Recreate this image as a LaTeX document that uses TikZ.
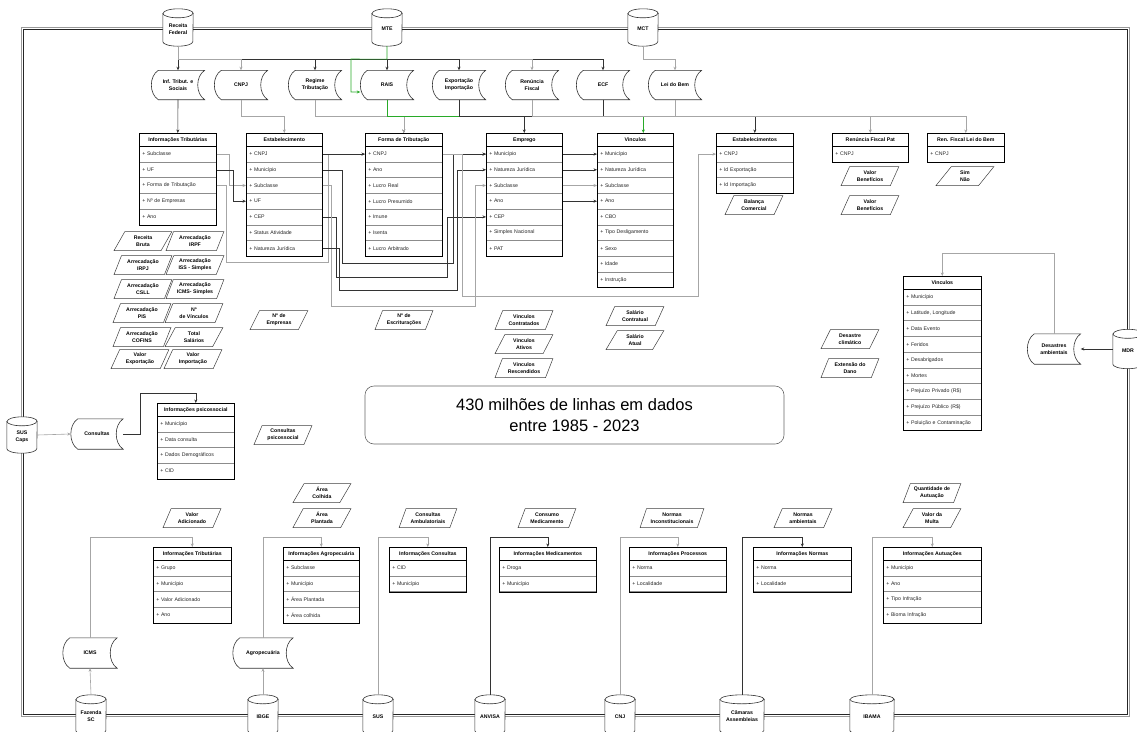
\documentclass[tikz,border=0pt]{standalone}
\usepackage{fontspec}
\setmainfont{Liberation Sans}
\usetikzlibrary{shapes.geometric,arrows.meta}
\definecolor{gcol}{RGB}{40,170,40}
\newcommand{\fsrow}{\fontsize{5.2}{6}\selectfont}
\newcommand{\fsb}{\fontsize{5.2}{7}\selectfont\bfseries}
\tikzset{
  ln/.style={line width=0.6pt, draw=black!80},
  lg/.style={line width=0.6pt, draw=black!35},
  gr/.style={line width=0.6pt, draw=gcol},
  arr/.style={-{Stealth[length=3.5pt,width=3pt]}},
  thead/.style={draw=black, line width=0.6pt, anchor=north west, minimum height=13pt, inner sep=0pt, font=\fsb},
  trow/.style={draw=black!45, line width=0.5pt, anchor=north west, minimum height=15.7pt, inner xsep=3pt, inner ysep=0pt, align=left, font=\fsrow, text=black!85},
  tframe/.style={draw=black, line width=0.7pt},
  para/.style={trapezium, draw=black!75, line width=0.5pt, trapezium left angle=63, trapezium right angle=117, trapezium stretches=true, minimum width=58pt, minimum height=19pt, inner sep=0pt, align=center, font=\fsb},
  sdbox/.style={inner sep=0pt, align=center, font=\fsb},
  sdline/.style={draw=black!80, line width=0.6pt},
  cylbox/.style={inner sep=0pt},
  cyl/.style={draw=black!80, line width=0.6pt, fill=white},
  cylfront/.style={draw=black!80, line width=0.6pt},
  cyltext/.style={inner sep=0pt, align=center, font=\fsb},
  frameout/.style={draw=black!40, line width=0.6pt},
  framein/.style={draw=black!85, line width=0.7pt},
}
% table: name, x0, y0, width, header, rows
\newcommand{\utab}[6]{%
  \pgfmathsetmacro{\tw}{#4-6}%
  \node[thead, minimum width=#4pt] (#1) at (#2,#3) {#5};
  \foreach \rt [count=\ri] in {#6} {
    \node[trow, text width=\tw pt] (#1-\ri) at (#2,{#3+13+15.7*(\ri-1)}) {+ \rt};
    \xdef\lastri{\ri}
  }
  \draw[tframe] (#1.north west) rectangle (#1-\lastri.south east);
  \draw[tframe] (#1.south west) -- (#1.south east);
}
% stored data: name, cx, cy, w, h, text
\newcommand{\sdat}[6]{%
  \node[sdbox, minimum width=#4pt, minimum height=#5pt] (#1) at (#2,#3) {#6};
  \draw[sdline] ([xshift=7pt]#1.north west) -- (#1.north east)
    .. controls ([xshift=-9.3pt,yshift=-6pt]#1.north east) and ([xshift=-9.3pt,yshift=6pt]#1.south east) .. (#1.south east)
    -- ([xshift=7pt]#1.south west)
    .. controls ([xshift=-2.3pt,yshift=6pt]#1.south west) and ([xshift=-2.3pt,yshift=-6pt]#1.north west) .. ([xshift=7pt]#1.north west) -- cycle;
}
% cylinder: name, cx, cy, w, h, text
\newcommand{\dbc}[6]{%
  \pgfmathsetmacro{\crad}{#4/2}%
  \node[cylbox, minimum width=#4pt, minimum height=#5pt] (#1) at (#2,#3) {};
  \draw[cyl] ([yshift=-4.5pt]#1.north west) -- ([yshift=4.5pt]#1.south west)
     arc[start angle=180, end angle=360, x radius=\crad pt, y radius=4.5pt]
     -- ([yshift=-4.5pt]#1.north east)
     arc[start angle=0, end angle=180, x radius=\crad pt, y radius=4.5pt] -- cycle;
  \draw[cylfront] ([yshift=-4.5pt]#1.north west) arc[start angle=180, end angle=360, x radius=\crad pt, y radius=4.5pt];
  \node[cyltext] (#1t) at ([yshift=-1.5pt]#1.center) {#6};
}
\begin{document}
\begin{tikzpicture}[x=1pt,y=-1pt]
\useasboundingbox (0,0) rectangle (1137,731);
\fill[white] (0,0) rectangle (1137,731);
\draw[frameout] (21,27) rectangle (1129,716);
\draw[framein] (23,29) rectangle (1127,714);

% databases
\dbc{rf}{178}{27.5}{30}{37}{Receita\\Federal}
\dbc{mte}{387}{27.5}{30}{37}{MTE}
\dbc{mct}{643}{27.5}{30}{37}{MCT}
\dbc{scaps}{22}{435}{30}{36}{SUS\\Caps}
\dbc{mdr}{1128}{349}{30}{39}{MDR}
\dbc{faz}{91}{715}{30}{40}{Fazenda\\SC}
\dbc{ibge}{263}{715}{30}{40}{IBGE}
\dbc{sus}{378}{715}{30}{40}{SUS}
\dbc{anv}{490}{715}{30}{40}{ANVISA}
\dbc{cnj}{620}{715}{30}{40}{CNJ}
\dbc{cam}{742}{715}{44}{40}{Câmaras\\Assembleias}
\dbc{iba}{872}{715}{44}{40}{IBAMA}

% stored data
\sdat{inf}{178}{85}{53}{29}{Inf. Tribut. e\\Sociais}
\sdat{cnpjs}{241}{85}{53}{29}{CNPJ}
\sdat{reg}{315}{85}{53}{29}{Regime\\Tributação}
\sdat{rais}{387}{85}{53}{29}{RAIS}
\sdat{exp}{459}{85}{53}{29}{Exportação\\Importação}
\sdat{ren}{532}{85}{53}{29}{Renúncia\\Fiscal}
\sdat{ecf}{603}{85}{53}{29}{ECF}
\sdat{lei}{675}{85}{53}{29}{Lei do Bem}
\sdat{cons}{97}{434}{52}{30}{Consultas}
\sdat{des}{1054}{349}{53}{30}{Desastres\\ambientais}
\sdat{icms}{90}{653}{54}{30}{ICMS}
\sdat{agr}{263}{653}{60}{30}{Agropecuária}

% tables
\utab{it}{139}{133}{77}{Informações Tributárias}{Subclasse, UF, Forma de Tributação, Nº de Empresas, Ano}
\utab{es}{246}{133}{76}{Estabelecimento}{CNPJ, Município, Subclasse, UF, CEP, Status Atividade, Natureza Jurídica}
\utab{fo}{365}{133}{77}{Forma de Tributação}{CNPJ, Ano, Lucro Real, Lucro Presumido, Imune, Isenta, Lucro Arbitrado}
\utab{em}{486}{133}{76}{Emprego}{Município, Natureza Jurídica, Subclasse, Ano, CEP, Simples Nacional, PAT}
\utab{vi}{597}{133}{76}{Vinculos}{Município, Natureza Jurídica, Subclasse, Ano, CBO, Tipo Desligamento, Sexo, Idade, Instrução}
\utab{ests}{716}{133}{77}{Estabelecimentos}{CNPJ, Id Exportação, Id Importação}
\utab{rp}{832}{133}{76}{Renúncia Fiscal Pat}{CNPJ}
\utab{rl}{927}{133}{77}{Ren. Fiscal Lei do Bem}{CNPJ}
\utab{vr}{903}{276}{78}{Vinculos}{Município, {Latitude, Longitude}, Data Evento, Feridos, Desabrigados, Mortes, Prejuízo Privado (R\$), Prejuízo Público (R\$), Poluição e Contaminação}
\utab{ps}{157}{403}{77}{Informações psicossocial}{Município, Data consulta, Dados Demográficos, CID}
\utab{it2}{153}{547}{78}{Informações Tributárias}{Grupo, Município, Valor Adicionado, Ano}
\utab{ag}{283}{547}{76}{Informações Agropecuária}{Subclasse, Município, Área Plantada, Área colhida}
\utab{ic}{389}{547}{77}{Informações Consultas}{CID, Município}
\utab{md}{499}{547}{97}{Informações Medicamentos}{Droga, Município}
\utab{pr}{629}{547}{97}{Informações Processos}{Norma, Localidade}
\utab{nm}{753}{547}{98}{Informações Normas}{Norma, Localidade}
\utab{au}{883}{547}{98}{Informações Autuações}{Município, Ano, Tipo Infração, Bioma Infração}

% parallelograms
\node[para] (pa1) at (143,241) {Receita\\Bruta};
\node[para] (pa2) at (195,241) {Arrecadação\\IRPF};
\node[para] (pa3) at (143,265) {Arrecadação\\IRPJ};
\node[para] (pa4) at (195,265) {Arrecadação\\ISS - Simples};
\node[para] (pa5) at (143,289) {Arrecadação\\CSLL};
\node[para] (pa6) at (195,289) {Arrecadação\\ICMS- Simples};
\node[para] (pa7) at (142,313) {Arrecadação\\PIS};
\node[para] (pa8) at (194,313) {Nº\\de Vínculos};
\node[para] (pa9) at (142,337) {Arrecadação\\COFINS};
\node[para] (pa10) at (194,337) {Total\\Salários};
\node[para] (pa11) at (140,359) {Valor\\Exportação};
\node[para] (pa12) at (193,359) {Valor\\Importação};
\node[para] (pa13) at (279,320) {Nº de\\Empresas};
\node[para] (pa14) at (404,320) {Nº de\\Escriturações};
\node[para] (pa15) at (524,320) {Vinculos\\Contratados};
\node[para] (pa16) at (524,344) {Vinculos\\Ativos};
\node[para] (pa17) at (524,368) {Vinculos\\Rescendidos};
\node[para] (pa18) at (635,316) {Salário\\Contratual};
\node[para] (pa19) at (635,340) {Salário\\Atual};
\node[para] (pa20) at (754,205) {Balança\\Comercial};
\node[para] (pa21) at (870,176) {Valor\\Benefícios};
\node[para] (pa22) at (870,205) {Valor\\Benefícios};
\node[para] (pa23) at (965,176) {Sim\\Não};
\node[para] (pa24) at (850,339) {Desastre\\climático};
\node[para] (pa25) at (850,368) {Extensão do\\Dano};
\node[para] (pa26) at (283,435) {Consultas\\psicossocial};
\node[para] (pa27) at (192,518) {Valor\\Adicionado};
\node[para] (pa28) at (322,493) {Área\\Colhida};
\node[para] (pa29) at (322,518) {Área\\Plantada};
\node[para] (pa30) at (428,518) {Consultas\\Ambulatoriais};
\node[para] (pa31) at (547,518) {Consumo\\Medicamento};
\node[para, minimum width=64pt] (pa32) at (672,518) {Normas\\Inconstitucionais};
\node[para] (pa33) at (803,518) {Normas\\ambientais};
\node[para] (pa34) at (932,493) {Quantidade de\\Autuação};
\node[para] (pa35) at (932,518) {Valor da\\Multa};

% summary box
\node[draw=black!60, line width=0.6pt, rounded corners=9pt, minimum width=419pt, minimum height=58pt, align=center, font=\fontsize{16.5}{21}\selectfont] (stats) at (574.5,415) {430 milhões de linhas em dados\\entre 1985 - 2023};

% top bus from Receita Federal
\draw[ln,arr] (rf.south) -- (inf.north);
\draw[ln,arr] (rf.south) -- ++(0,13) -| (ecf.north);
\draw[lg,arr] (rf.south) -- ++(0,13) -| (ren.north);
\draw[ln,arr] (rf.south) -- ++(0,13) -| (exp.north);
\draw[ln,arr] (rf.south) -- ++(0,13) -| (rais.north);
\draw[ln,arr] (rf.south) -- ++(0,13) -| (reg.north);
\draw[lg,arr] (rf.south) -- ++(0,13) -| (cnpjs.north);
\draw[gr,arr] (mte.south) -- ++(0,13) -- (351,59) -- (351,92) -- ([yshift=-7pt]rais.west);
\draw[lg,arr] (mct.south) -- ++(0,13) -| (lei.north);

% second bus
\draw[ln,arr] (inf.south) -- (it.north);
\draw[lg,arr] (cnpjs.south) -- ++(0,17) -| (es.north);
\draw[ln,arr] (ecf.south) -- ++(0,17) -| (fo.north);
\draw[ln,arr] (rais.south) -- ++(0,17) -| (em.north);
\draw[lg,arr] (reg.south) -- ++(0,17) -| (fo.north);
\draw[gr,arr] (rais.south) -- ++(0,17) -| ([xshift=8pt]vi.north);
\draw[ln,arr] (exp.south) -- ++(0,17) -| (ests.north);
\draw[lg,arr] (ren.south) -- ++(0,17) -| (rp.north);
\draw[lg,arr] (lei.south) -- ++(0,17) -| (rl.north);

% links between tables
\draw[lg,arr] (it-1.east) -- ++(13,0) |- (es-3.west);
\draw[ln,arr] (it-2.east) -- ++(17,0) |- (es-4.west);
\draw[lg,arr] (it-3.east) -- ++(10,0) |- (328,262) |- (fo-1.west);
\draw[ln,arr] (es-1.east) -- (fo-1.west);
\draw[ln,arr] (es-2.east) -| (342,263) -- (453,263) |- (em-1.west);
\draw[ln,arr] (es-5.east) -| (336,277) -- (447,277) |- (em-5.west);
\draw[lg,arr] (es-3.east) -| (331,306) -- (475,306) |- (em-3.west);
\draw[ln,arr] (es-7.east) -| (339,290) -- (457,290) |- (em-2.west);
\draw[ln,arr] (fo-1.east) -- (em-1.west);
\draw[lg,arr] (fo-1.east) -- ++(20,0) |- (698,296) |- (ests-1.west);
\draw[ln,arr] (em-1.east) -- (vi-1.west);
\draw[ln,arr] (em-2.east) -- (vi-2.west);
\draw[lg,arr] (em-3.east) -- (vi-3.west);
\draw[ln,arr] (em-4.east) -- (vi-4.west);

% right side
\draw[lg,arr] (des.north) -- ++(0,-81) -| (vr.north);
\draw[ln,arr] (mdr.west) -- (des.east);

% left side
\draw[lg,arr] (scaps.east) -- (cons.west);
\draw[ln,arr] (cons.east) -- ++(17,0) -- ++(0,-41) -| (ps.north);

% bottom
\draw[lg,arr] (faz.north) -- (icms.south);
\draw[lg,arr] (icms.north) -- ++(0,-101) -| (it2.north);
\draw[lg,arr] (ibge.north) -- (agr.south);
\draw[lg,arr] (agr.north) -- ++(0,-101) -| (ag.north);
\draw[lg,arr] (sus.north) -- ++(0,-158) -| (ic.north);
\draw[ln,arr] (anv.north) -- ++(0,-158) -| (md.north);
\draw[lg,arr] (cnj.north) -- ++(0,-158) -| (pr.north);
\draw[ln,arr] (cam.north) -- ++(0,-158) -| (nm.north);
\draw[lg,arr] (iba.north) -- ++(0,-158) -| (au.north);
\end{tikzpicture}
\end{document}
